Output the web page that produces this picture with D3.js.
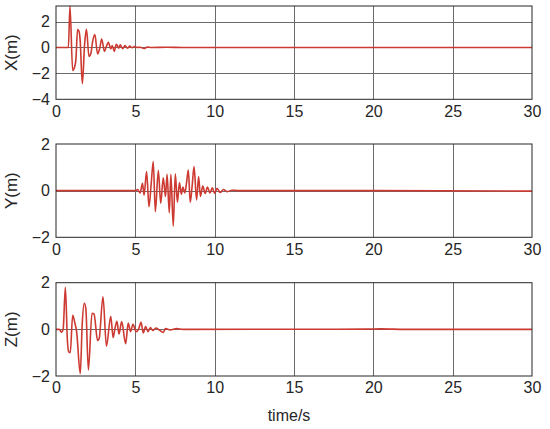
<!DOCTYPE html>
<html>
<head>
<meta charset="utf-8">
<script src="https://cdn.jsdelivr.net/npm/d3@7"></script>
<style>
  body { margin: 0; background: #fff; }
  svg { display: block; }
  text { font-family: "Liberation Sans", Arial, Helvetica, sans-serif; fill: #262626; }
</style>
</head>
<body>
<div id="chart"></div>
<script>
// time axis ticks shared by all three panels
var timeTicks = [0, 5, 10, 15, 20, 25, 30];

// X displacement (m)
var timeX = [0, 0.5, 0.78, 0.88, 1.05, 1.15, 1.25, 1.36, 1.45, 1.52, 1.66, 1.8, 1.92, 2.08, 2.2, 2.3, 2.45, 2.62, 2.75, 2.88,
    3.05, 3.18, 3.3, 3.45, 3.55, 3.67, 3.8, 3.95, 4.05, 4.2, 4.35, 4.5, 4.65, 4.8, 4.95, 5.1, 5.3, 5.55, 5.75, 6.0, 7, 8, 15, 30];
var valX = [0, 0, 0, 3.2, -1.77, -1.6, -1.0, 1.38, 1.25, 0.6, -2.8, 0.2, 1.4, -0.7, -0.45, 0.4, 1.0, -0.5, -0.1, 0.65,
    -0.3, 0.1, 0.4, -0.1, 0.15, -0.3, 0.25, -0.05, 0.2, -0.1, 0.15, -0.05, 0.1, -0.02, 0.08, 0, 0.02, -0.08, 0.03, 0, 0.02, 0, 0, 0];

// Y displacement (m)
var timeY = [0, 5.0, 5.15, 5.3, 5.45, 5.55, 5.71, 5.86, 6.0, 6.13, 6.26, 6.45, 6.6, 6.76, 6.9, 7.0, 7.14, 7.24, 7.39, 7.52,
    7.65, 7.78, 7.9, 8.0, 8.12, 8.22, 8.34, 8.46, 8.58, 8.7, 8.86, 8.99, 9.1, 9.25, 9.4, 9.55, 9.7, 9.85, 10.0, 10.15,
    10.35, 10.55, 10.8, 11.1, 11.5, 20, 30];
var valY = [0, 0, 0.05, -0.1, 0.32, -0.2, 0.82, -0.69, 0.3, 1.25, -0.9, 0.86, -0.54, 0.55, -0.25, 0.7, -0.95, 0.7, -1.52, 0.72,
    -0.5, 0.35, -0.15, 0.15, -0.1, 0.3, 0.88, -0.5, 0.2, 1.03, -0.4, 0.6, -0.25, 0.2, -0.12, 0.15, -0.1, 0.12, -0.12, 0.1,
    -0.08, 0.05, -0.04, 0.02, 0, 0, -0.02];

// Z displacement (m)
var timeZ = [0, 0.2, 0.35, 0.45, 0.59, 0.72, 0.8, 0.9, 1.05, 1.18, 1.3, 1.53, 1.65, 1.78, 1.88, 2.04, 2.27, 2.4, 2.62, 2.72,
    2.96, 3.18, 3.45, 3.6, 3.72, 3.84, 3.97, 4.14, 4.39, 4.55, 4.7, 4.85, 5.05, 5.2, 5.36, 5.5, 5.65, 5.8, 5.95, 6.1,
    6.3, 6.5, 6.76, 6.9, 7.2, 7.6, 8, 19.5, 20.5, 22, 30];
var valZ = [0, 0, -0.12, 0, 1.8, -0.5, -0.96, -1.0, 0.6, 0.3, -0.1, -1.9, 0.2, 1.12, 0.9, -1.74, 0.69, 0.65, -0.48, -0.4,
    1.4, -0.72, 0.56, -0.35, 0.05, 0.35, -0.2, 0.33, -0.62, 0.27, -0.1, 0.22, -0.1, 0, 0.3, -0.15, 0.12, -0.1, 0.08, -0.05,
    0.06, -0.02, -0.13, 0.03, -0.03, 0.03, 0, 0.01, 0.02, 0, 0];

var yTicksX = [-4, -2, 0, 2];
var yTicksYZ = [-2, 0, 2];
var panelLabels = ["X(m)", "Y(m)", "Z(m)"];
var xLabel = "time/s";

var width = 550, height = 429;
var margin = {left: 56, right: 18};
var lineColor = "#cc3a32", gridColor = "#6a6a6a";

// vertical placement of each panel
var panels = [
    {time: timeX, val: valX, domain: [-4, 3.2], ticks: yTicksX, top: 6, bottom: 99.3, label: panelLabels[0]},
    {time: timeY, val: valY, domain: [-2, 2], ticks: yTicksYZ, top: 144, bottom: 237.3, label: panelLabels[1]},
    {time: timeZ, val: valZ, domain: [-2, 2], ticks: yTicksYZ, top: 282.7, bottom: 376, label: panelLabels[2]}
];

var svg = d3.select("#chart").append("svg")
    .attr("width", width)
    .attr("height", height);

var x = d3.scaleLinear()
    .domain([0, 30])
    .range([margin.left, width - margin.right]);

panels.forEach(function(p, i) {
    var y = d3.scaleLinear().domain(p.domain).range([p.bottom, p.top]);
    var g = svg.append("g");

    // grid
    g.selectAll(".vgrid")
        .data(timeTicks.slice(1, -1))
        .enter().append("line")
        .attr("x1", function(d) { return Math.round(x(d)) + 0.5; })
        .attr("x2", function(d) { return Math.round(x(d)) + 0.5; })
        .attr("y1", p.top).attr("y2", p.bottom)
        .style("stroke", gridColor).style("stroke-width", 1);

    g.selectAll(".hgrid")
        .data(p.ticks.filter(function(t) { return t > p.domain[0] && t < p.domain[1]; }))
        .enter().append("line")
        .attr("x1", x(0)).attr("x2", x(30))
        .attr("y1", function(d) { return Math.round(y(d)) + 0.5; })
        .attr("y2", function(d) { return Math.round(y(d)) + 0.5; })
        .style("stroke", gridColor).style("stroke-width", 1);

    // signal
    var pts = p.time.map(function(t, j) { return [t, p.val[j]]; });
    g.append("path")
        .datum(pts)
        .attr("d", d3.line()
            .x(function(d) { return x(d[0]); })
            .y(function(d) { return y(d[1]); })
            .curve(d3.curveMonotoneX))
        .style("fill", "none")
        .style("stroke", lineColor)
        .style("stroke-width", 1.6)
        .style("stroke-linejoin", "round");

    // box
    g.append("rect")
        .attr("x", x(0)).attr("y", p.top)
        .attr("width", x(30) - x(0)).attr("height", p.bottom - p.top)
        .style("fill", "none").style("stroke", "#262626").style("stroke-width", 1);

    // axes
    var xAxis = g.append("g")
        .attr("transform", "translate(0," + p.bottom + ")")
        .call(d3.axisBottom(x).tickValues(timeTicks).tickSize(0).tickPadding(6).tickFormat(d3.format("d")));
    var yAxis = g.append("g")
        .attr("transform", "translate(" + margin.left + ",0)")
        .call(d3.axisLeft(y).tickValues(p.ticks).tickSize(0).tickPadding(6).tickFormat(d3.format("d")));
    [xAxis, yAxis].forEach(function(a) {
        a.select(".domain").remove();
        a.selectAll("text").style("font-size", "16px").style("font-family", null).attr("fill", "#262626");
        a.attr("font-family", null);
    });

    g.append("text")
        .attr("transform", "translate(17," + ((p.top + p.bottom) / 2) + ") rotate(-90)")
        .attr("text-anchor", "middle")
        .style("font-size", "17px")
        .text(p.label);
});

svg.append("text")
    .attr("x", (x(0) + x(30)) / 2 - 5)
    .attr("y", 421)
    .attr("text-anchor", "middle")
    .style("font-size", "16px")
    .text(xLabel);
</script>
</body>
</html>
